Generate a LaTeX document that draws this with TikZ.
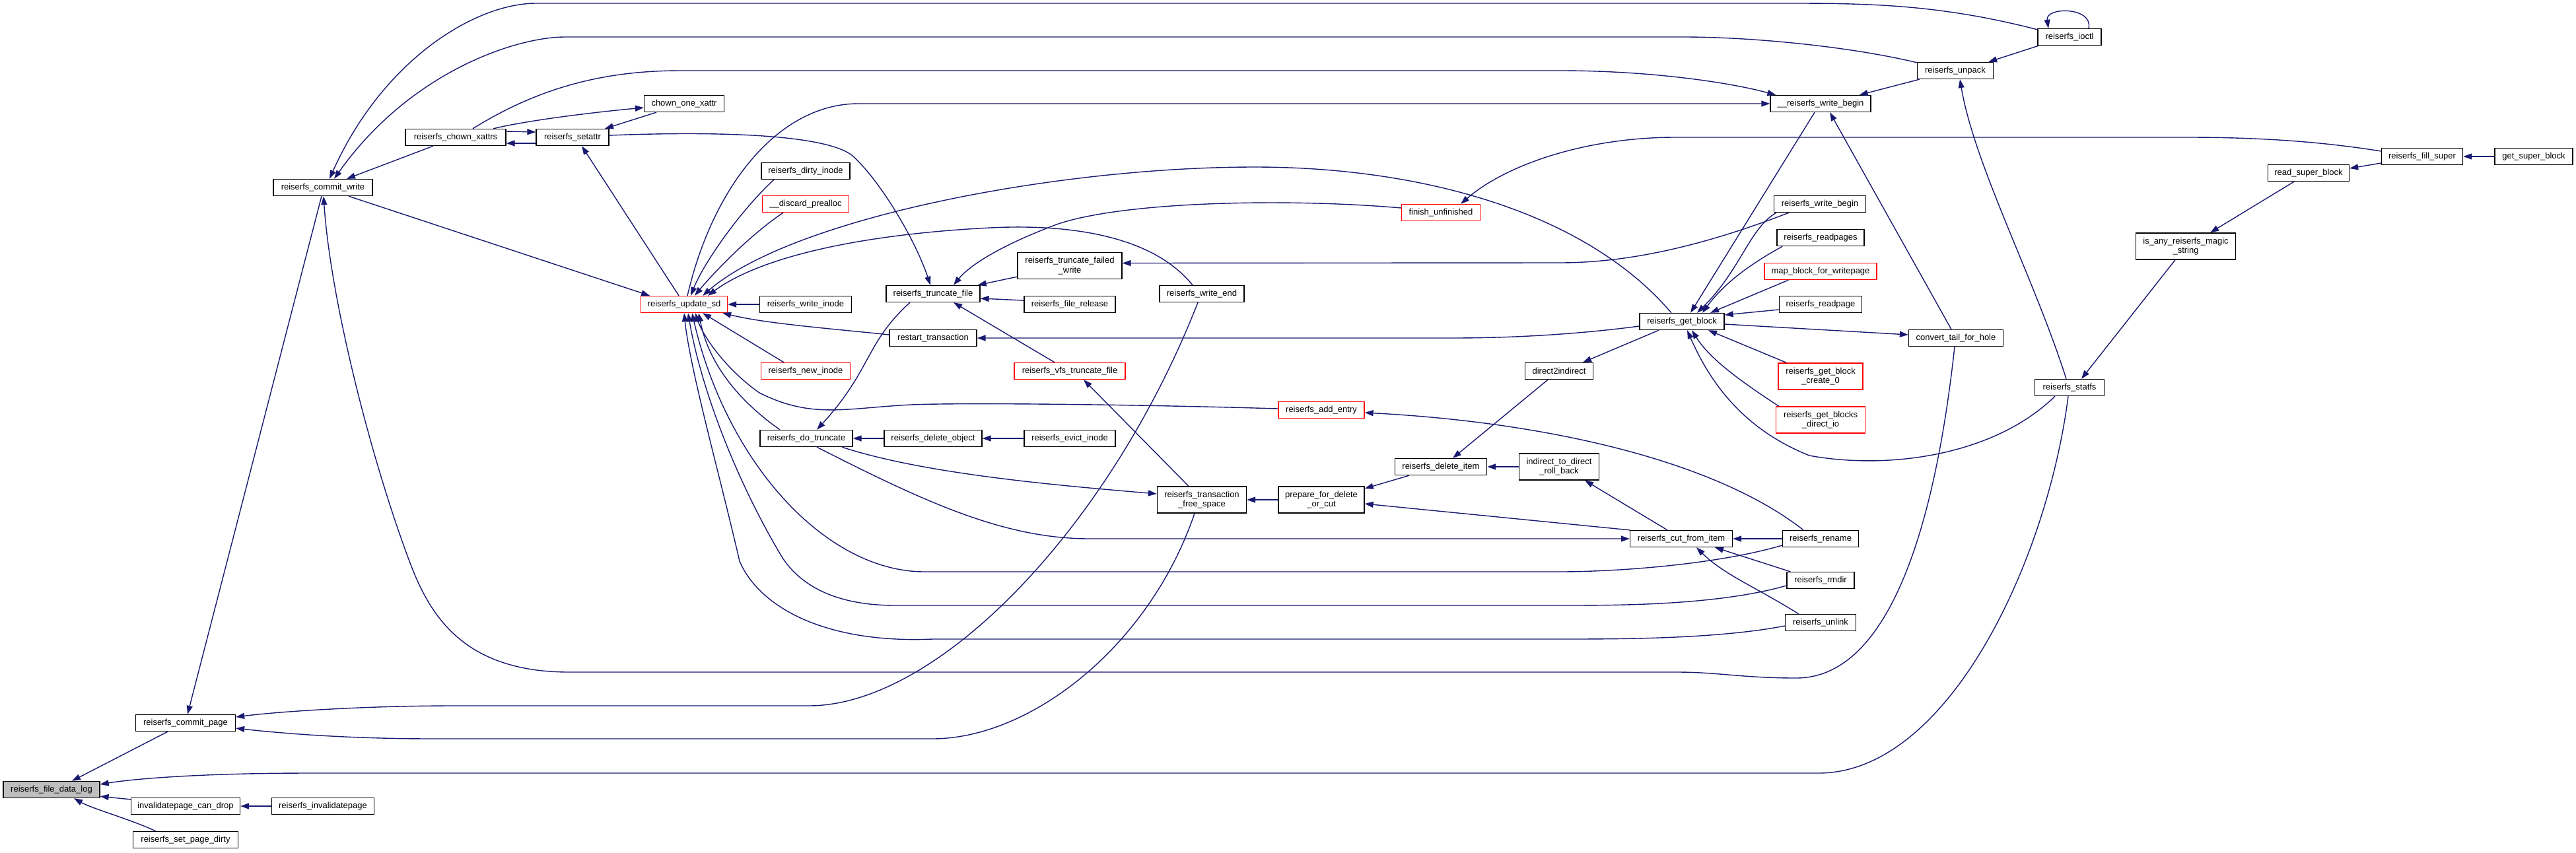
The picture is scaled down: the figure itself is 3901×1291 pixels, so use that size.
\documentclass[tikz,border=0pt]{standalone}
\usepackage{fontspec}
\setmainfont{Liberation Sans}
\usetikzlibrary{arrows.meta}
\definecolor{edgeblue}{RGB}{25,25,112}
\definecolor{fillgray}{RGB}{191,191,191}
\begin{document}
\begin{tikzpicture}[x=1pt,y=-1pt,
  fnode/.style={draw=black,line width=1.3pt,fill=white,minimum height=25pt,inner xsep=3pt,inner ysep=2pt,font=\fontsize{13}{14.5}\selectfont,align=center},
  fnodetwo/.style={fnode,minimum height=40pt},
  rednode/.style={draw=red},
  rootnode/.style={fill=fillgray},
  edg/.style={draw=edgeblue,line width=1.4pt,-{Triangle[length=13pt,width=9pt]}},
]
\fill[white] (0,0) rectangle (3901,1291);
\useasboundingbox (0,0) rectangle (3901,1291);

% nodes
\node[fnode,rootnode,minimum width=146pt] (fdl) at (78,1196) {reiserfs\_file\_data\_log};
\node[fnode,minimum width=151pt] (cpage) at (281,1095) {reiserfs\_commit\_page};
\node[fnode,minimum width=165pt] (ipcd) at (281,1221) {invalidatepage\_can\_drop};
\node[fnode,minimum width=159pt] (spd) at (281,1272) {reiserfs\_set\_page\_dirty};
\node[fnode,minimum width=155pt] (inval) at (489,1221) {reiserfs\_invalidatepage};
\node[fnode,minimum width=150pt] (cw) at (489,284) {reiserfs\_commit\_write};
\node[fnode,minimum width=152pt] (cx) at (690,208) {reiserfs\_chown\_xattrs};
\node[fnode,minimum width=110pt] (sa) at (867,208) {reiserfs\_setattr};
\node[fnode,minimum width=121pt] (cox) at (1036,157) {chown\_one\_xattr};
\node[fnode,rednode,minimum width=131pt] (usd) at (1036,461) {reiserfs\_update\_sd};
\node[fnode,minimum width=134pt] (di) at (1220,259) {reiserfs\_dirty\_inode};
\node[fnode,rednode,minimum width=131pt] (dp) at (1220,309) {\_\_discard\_prealloc};
\node[fnode,minimum width=139pt] (wi) at (1220,461) {reiserfs\_write\_inode};
\node[fnode,rednode,minimum width=135pt] (ni) at (1220,562) {reiserfs\_new\_inode};
\node[fnode,minimum width=140pt] (dt) at (1221,664) {reiserfs\_do\_truncate};
\node[fnode,minimum width=142pt] (tf) at (1413,445) {reiserfs\_truncate\_file};
\node[fnode,minimum width=132pt] (rt) at (1413,512) {restart\_transaction};
\node[fnode,minimum width=148pt] (dobj) at (1413,664) {reiserfs\_delete\_object};
\node[fnodetwo,minimum width=158pt] (tfw) at (1620,402.5) {reiserfs\_truncate\_failed\\\_write};
\node[fnode,minimum width=138pt] (fr) at (1620,461) {reiserfs\_file\_release};
\node[fnode,rednode,minimum width=168pt] (vtf) at (1620,562) {reiserfs\_vfs\_truncate\_file};
\node[fnode,minimum width=138pt] (ev) at (1620,664) {reiserfs\_evict\_inode};
\node[fnode,minimum width=128pt] (we) at (1820,445) {reiserfs\_write\_end};
\node[fnodetwo,minimum width=135pt] (tfs) at (1820,757) {reiserfs\_transaction\\\_free\_space};
\node[fnode,rednode,minimum width=130pt] (ae) at (2001,621) {reiserfs\_add\_entry};
\node[fnodetwo,minimum width=130pt] (pdc) at (2001,757) {prepare\_for\_delete\\\_or\_cut};
\node[fnode,rednode,minimum width=119pt] (fu) at (2182,322) {finish\_unfinished};
\node[fnode,minimum width=139pt] (del) at (2182,707) {reiserfs\_delete\_item};
\node[fnode,minimum width=103pt] (d2i) at (2361,562) {direct2indirect};
\node[fnodetwo,minimum width=121pt] (itd) at (2361,707) {indirect\_to\_direct\\\_roll\_back};
\node[fnode,minimum width=128pt] (gb) at (2547,487) {reiserfs\_get\_block};
\node[fnode,minimum width=155pt] (cfi) at (2546,816) {reiserfs\_cut\_from\_item};
\node[fnode,minimum width=152pt] (rwb) at (2757,157) {\_\_reiserfs\_write\_begin};
\node[fnode,minimum width=139pt] (wb) at (2756,309) {reiserfs\_write\_begin};
\node[fnode,minimum width=132pt] (rps) at (2757,360) {reiserfs\_readpages};
\node[fnode,rednode,minimum width=170pt] (mbw) at (2757,411) {map\_block\_for\_writepage};
\node[fnode,minimum width=125pt] (rp) at (2757,461) {reiserfs\_readpage};
\node[fnodetwo,rednode,minimum width=128pt] (gbc) at (2757,570) {reiserfs\_get\_block\\\_create\_0};
\node[fnodetwo,rednode,minimum width=135pt] (gbd) at (2757,636) {reiserfs\_get\_blocks\\\_direct\_io};
\node[fnode,minimum width=115pt] (ren) at (2757,816) {reiserfs\_rename};
\node[fnode,minimum width=102pt] (rmd) at (2757,879) {reiserfs\_rmdir};
\node[fnode,minimum width=107pt] (unl) at (2757,943) {reiserfs\_unlink};
\node[fnode,minimum width=115pt] (up) at (2961,107) {reiserfs\_unpack};
\node[fnode,minimum width=143pt] (cth) at (2962,512) {convert\_tail\_for\_hole};
\node[fnode,minimum width=96pt] (ioc) at (3134,56) {reiserfs\_ioctl};
\node[fnode,minimum width=105pt] (sf) at (3134,587) {reiserfs\_statfs};
\node[fnodetwo,minimum width=151pt] (iam) at (3310,373) {is\_any\_reiserfs\_magic\\\_string};
\node[fnode,minimum width=123pt] (rsb) at (3496,262) {read\_super\_block};
\node[fnode,minimum width=123pt] (fs) at (3668,237) {reiserfs\_fill\_super};
\node[fnode,minimum width=118pt] (gsb) at (3837,237) {get\_super\_block};

% edges
\draw[edg] ([xshift=-27pt]cpage.south) -- ([xshift=31pt]fdl.north);
\draw[edg] ([xshift=-2pt]sf.south) .. controls (3100,850) and (2950,1171) .. (2754,1171) -- (469,1171) .. controls (300,1171) and (200,1180) .. ([yshift=8pt]fdl.east);
\draw[edg] ([yshift=-3pt]ipcd.north west) -- ([yshift=3pt]fdl.south east);
\draw[edg] ([xshift=-45pt]spd.north) .. controls (195,1240) and (140,1225) .. ([xshift=34pt]fdl.south);
\draw[edg] (inval.west) -- (ipcd.east);
\draw[edg] ([xshift=-2pt]cw.south) -- ([xshift=3pt]cpage.north);
\draw[edg] ([xshift=-2pt]cth.south) .. controls (2930,800) and (2860,1027) .. (2720,1027) .. controls (2640,1027) and (2600,1018) .. (2540,1018) -- (862,1018) .. controls (700,1018) and (650,930) .. (620,850) .. controls (560,690) and (500,450) .. ([xshift=1pt]cw.south);
\draw[edg] ([xshift=-6pt]we.south) .. controls (1680,800) and (1420,1069) .. (1225,1069) -- (687,1069) .. controls (550,1069) and (420,1078) .. ([yshift=9pt]cpage.east);
\draw[edg] ([xshift=-11pt]tfs.south) .. controls (1740,980) and (1560,1119) .. (1412,1119) -- (656,1119) .. controls (520,1119) and (420,1110) .. ([yshift=-8pt]cpage.east);
\draw[edg] ([yshift=-2pt]ioc.north west) .. controls (2950,10) and (2850,5) .. (2720,5) -- (812,5) .. controls (720,5) and (580,90) .. ([xshift=10pt]cw.north);
\draw[edg] ([yshift=-1pt]up.north west) .. controls (2800,70) and (2650,56) .. (2550,56) -- (856,56) .. controls (780,56) and (620,110) .. ([xshift=17pt]cw.north);
\draw[edg] ([xshift=-34pt]cx.south) -- ([xshift=36pt]cw.north);
\draw[edg] ([xshift=57pt]cx.north) .. controls (800,182) and (900,170) .. ([yshift=-6pt]cox.west);
\draw[edg] ([xshift=-42pt]cox.south) -- ([xshift=49pt]sa.north);
\draw[edg] ([yshift=9pt]cx.east) -- ([yshift=8pt]sa.west);
\draw[edg] ([yshift=-9pt]sa.west) -- ([yshift=-9pt]cx.east);
\draw[edg] ([yshift=3pt]sa.east) .. controls (1100,198) and (1250,205) .. (1290,235) .. controls (1330,270) and (1385,360) .. ([xshift=-4pt]tf.north);
\draw[edg] ([xshift=-8pt]usd.north) -- ([xshift=14pt]sa.south);
\draw[edg] ([xshift=39pt]cw.south) -- ([xshift=-52pt]usd.north);
\draw[edg] ([xshift=-48pt]di.south) .. controls (1120,320) and (1065,400) .. ([xshift=10pt]usd.north);
\draw[edg] ([xshift=-34pt]dp.south) .. controls (1130,360) and (1075,420) .. ([xshift=16pt]usd.north);
\draw[edg] ([xshift=5pt]usd.north) .. controls (1080,280) and (1180,157) .. (1300,157) -- (rwb.west);
\draw[edg] ([xshift=-47pt]wb.south) .. controls (2560,380) and (2450,398) .. (2362,398) -- ([yshift=4pt]tfw.east);
\draw[edg] ([yshift=7pt]fu.west) .. controls (1950,300) and (1700,305) .. (1600,340) .. controls (1520,370) and (1470,400) .. ([xshift=31pt]tf.north);
\draw[edg] ([yshift=4pt]tfw.south west) -- ([xshift=-4pt]tf.north east);
\draw[edg] ([yshift=6pt]fr.west) -- ([yshift=-7pt]tf.east);
\draw[edg] ([xshift=-23pt]vtf.north) -- ([xshift=31pt]tf.south);
\draw[edg] ([xshift=-35pt]tf.south) .. controls (1310,520) and (1320,560) .. ([xshift=16pt]dt.north);
\draw[edg] ([yshift=5pt]rt.west) .. controls (1250,497) and (1160,490) .. ([xshift=-8pt]usd.south east);
\draw[edg] (wi.west) -- (usd.east);
\draw[edg] ([xshift=-33pt]ni.north) -- ([xshift=28pt]usd.south);
\draw[edg] ([xshift=-40pt]dt.north) .. controls (1130,615) and (1075,560) .. ([xshift=22pt]usd.south);
\draw[edg] ([yshift=2pt]ae.west) .. controls (1700,612) and (1450,610) .. (1380,613) .. controls (1280,618) and (1230,635) .. (1150,595) .. controls (1100,560) and (1065,510) .. ([xshift=17pt]usd.south);
\draw[edg] ([yshift=-5pt]unl.west) .. controls (2600,968) and (2450,968) .. (2362,968) -- (1412,968) .. controls (1250,975) and (1150,920) .. (1120,850) .. controls (1090,720) and (1045,560) .. (usd.south);
\draw[edg] ([yshift=-8pt]rmd.west) .. controls (2600,917) and (2450,917) .. (2362,917) -- (1356,917) .. controls (1270,917) and (1215,890) .. (1185,845) .. controls (1110,720) and (1060,580) .. ([xshift=6pt]usd.south);
\draw[edg] ([yshift=-10pt]ren.west) .. controls (2600,855) and (2450,866) .. (2362,866) -- (1400,866) .. controls (1250,866) and (1100,700) .. ([xshift=12pt]usd.south);
\draw[edg] ([xshift=-14pt]we.north) .. controls (1740,350) and (1600,340) .. (1500,345) .. controls (1300,355) and (1150,390) .. ([xshift=36pt]usd.north);
\draw[edg] ([xshift=-16pt]gb.north) .. controls (2400,320) and (2150,253) .. (1900,253) .. controls (1600,253) and (1200,330) .. ([xshift=28pt]usd.north);
\draw[edg] ([xshift=-20pt]tfs.north) -- ([xshift=21pt]vtf.south);
\draw[edg] ([xshift=54pt]dt.south) .. controls (1400,718) and (1600,735) .. ([yshift=9pt]tfs.west);
\draw[edg] (dobj.west) -- (dt.east);
\draw[edg] (ev.west) -- (dobj.east);
\draw[edg] ([xshift=16pt]dt.south) .. controls (1400,760) and (1520,816) .. (1650,816) -- (cfi.west);
\draw[edg] (pdc.west) -- (tfs.east);
\draw[edg] ([xshift=-48pt]del.south) -- ([yshift=17pt]pdc.east);
\draw[edg] (cfi.north west) -- ([yshift=-6pt]pdc.east);
\draw[edg] (itd.west) -- (del.east);
\draw[edg] ([xshift=-21pt]cfi.north) -- ([xshift=39pt]itd.south);
\draw[edg] ([xshift=-17pt]d2i.south) -- ([xshift=18pt]del.north);
\draw[edg] ([xshift=-35pt]gb.south) -- ([xshift=36pt]d2i.north);
\draw[edg] ([xshift=-26pt]ren.north) .. controls (2600,700) and (2350,640) .. ([yshift=-4pt]ae.east);
\draw[edg] (ren.west) -- (cfi.east);
\draw[edg] ([xshift=6pt]rmd.north west) -- ([xshift=51pt]cfi.south);
\draw[edg] ([xshift=21pt]unl.north west) .. controls (2660,890) and (2610,870) .. ([xshift=23pt]cfi.south);
\draw[edg] ([yshift=-7pt]gb.west) .. controls (2400,505) and (2300,512) .. (2200,512) -- (rt.east);
\draw[edg] ([xshift=-9pt]rwb.south) -- ([xshift=13pt]gb.north);
\draw[edg] ([xshift=4pt]wb.south west) .. controls (2650,345) and (2635,410) .. ([xshift=23pt]gb.north);
\draw[edg] ([xshift=9pt]rps.south west) .. controls (2650,400) and (2610,430) .. ([xshift=31pt]gb.north);
\draw[edg] ([xshift=37pt]mbw.south west) -- ([xshift=43pt]gb.north);
\draw[edg] ([yshift=-8pt]rp.west) -- ([yshift=10pt]gb.east);
\draw[edg] ([yshift=-4pt]gb.east) -- ([yshift=5pt]cth.west);
\draw[edg] ([xshift=13pt]gbc.north west) -- ([xshift=40pt]gb.south);
\draw[edg] ([xshift=5pt]gbd.north west) .. controls (2640,580) and (2590,545) .. ([xshift=15pt]gb.south);
\draw[edg] ([xshift=-22pt]sf.south) .. controls (3020,690) and (2860,712) .. (2740,690) .. controls (2640,650) and (2590,580) .. ([xshift=8pt]gb.south);
\draw[edg] ([xshift=2pt]ioc.south west) -- ([xshift=-8pt]up.north east);
\draw[edg] ([xshift=29pt]ioc.north) .. controls (3170,10) and (3097,10) .. ([xshift=-32pt]ioc.north);
\draw[edg] ([xshift=4pt]up.south west) -- ([xshift=-18pt]rwb.north east);
\draw[edg] ([xshift=-5pt]sf.north) .. controls (3080,420) and (2990,250) .. ([xshift=7pt]up.south);
\draw[edg] ([xshift=-16pt]iam.south) -- ([xshift=18pt]sf.north);
\draw[edg] ([xshift=-22pt]rsb.south) -- ([xshift=37pt]iam.north);
\draw[edg] ([yshift=-10pt]fs.west) -- ([yshift=7pt]rsb.east);
\draw[edg] (gsb.west) -- (fs.east);
\draw[edg] ([yshift=8pt]fs.west) .. controls (3500,212) and (3400,208) .. (3313,208) -- (2537,208) .. controls (2400,208) and (2280,250) .. ([xshift=30pt]fu.north);
\draw[edg] ([xshift=-7pt]cth.north) -- ([xshift=14pt]rwb.south);
\draw[edg] ([xshift=26pt]cx.north) .. controls (820,130) and (920,107) .. (1031,107) -- (2362,107) .. controls (2500,107) and (2620,125) .. ([xshift=9pt]rwb.north west);
\end{tikzpicture}
\end{document}
